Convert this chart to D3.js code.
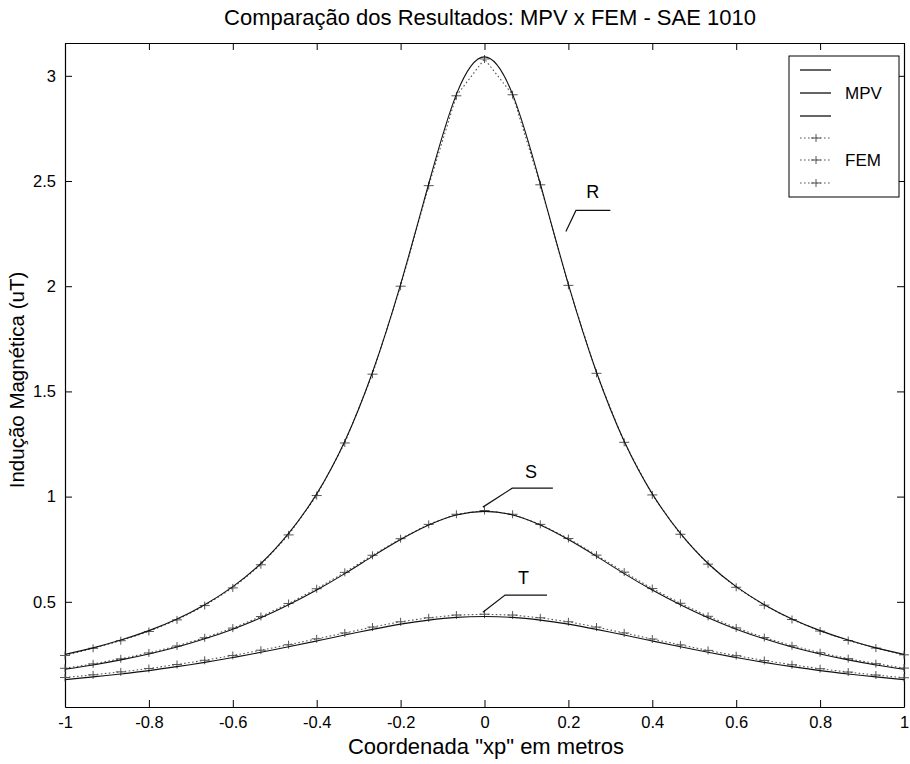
<!DOCTYPE html>
<html>
<head>
<meta charset="utf-8">
<script src="https://cdn.jsdelivr.net/npm/d3@7"></script>
<style>
  html, body { margin: 0; padding: 0; background: #fff; }
  svg text { font-family: "Liberation Sans", Arial, Helvetica, sans-serif; fill: #000; }
</style>
</head>
<body>
<svg id="chart" width="910" height="764"></svg>
<script>
// Sampling positions along the line (m)
const xp = [-1, -0.933, -0.867, -0.8, -0.733, -0.667, -0.6, -0.533, -0.467, -0.4, -0.333,
            -0.267, -0.2, -0.133, -0.067, 0, 0.067, 0.133, 0.2, 0.267, 0.333, 0.4,
            0.467, 0.533, 0.6, 0.667, 0.733, 0.8, 0.867, 0.933, 1];

// Magnetic induction (uT), MPV model, phases R, S, T
const mpvR = [0.250, 0.281, 0.318, 0.363, 0.418, 0.486, 0.572, 0.682, 0.825, 1.013, 1.263,
              1.591, 2.009, 2.487, 2.912, 3.090, 2.912, 2.487, 2.009, 1.591, 1.263, 1.013,
              0.825, 0.682, 0.572, 0.486, 0.418, 0.363, 0.318, 0.281, 0.250];
const mpvS = [0.179, 0.200, 0.224, 0.252, 0.285, 0.324, 0.370, 0.424, 0.486, 0.556, 0.634,
              0.716, 0.796, 0.865, 0.913, 0.930, 0.913, 0.865, 0.796, 0.716, 0.634, 0.556,
              0.486, 0.424, 0.370, 0.324, 0.285, 0.252, 0.224, 0.200, 0.179];
const mpvT = [0.130, 0.143, 0.157, 0.173, 0.192, 0.212, 0.235, 0.260, 0.286, 0.314, 0.342,
              0.369, 0.394, 0.413, 0.426, 0.430, 0.426, 0.413, 0.394, 0.369, 0.342, 0.314,
              0.286, 0.260, 0.235, 0.212, 0.192, 0.173, 0.157, 0.143, 0.130];

// Magnetic induction (uT), FEM model, phases R, S, T
const femR = [0.245, 0.279, 0.315, 0.359, 0.414, 0.482, 0.566, 0.676, 0.818, 1.005, 1.255,
              1.582, 2.000, 2.478, 2.905, 3.080, 2.910, 2.482, 2.004, 1.586, 1.258, 1.008,
              0.821, 0.679, 0.569, 0.484, 0.416, 0.361, 0.316, 0.280, 0.248];
const femS = [0.184, 0.205, 0.229, 0.257, 0.290, 0.329, 0.375, 0.430, 0.492, 0.562, 0.640,
              0.721, 0.800, 0.868, 0.916, 0.934, 0.916, 0.868, 0.801, 0.722, 0.641, 0.563,
              0.493, 0.431, 0.376, 0.330, 0.291, 0.258, 0.230, 0.206, 0.185];
const femT = [0.140, 0.153, 0.167, 0.183, 0.202, 0.222, 0.245, 0.270, 0.296, 0.324, 0.352,
              0.380, 0.405, 0.424, 0.437, 0.441, 0.437, 0.424, 0.405, 0.380, 0.352, 0.323,
              0.295, 0.269, 0.244, 0.221, 0.201, 0.182, 0.166, 0.152, 0.139];

// Axis ticks
const xTicks = [-1, -0.8, -0.6, -0.4, -0.2, 0, 0.2, 0.4, 0.6, 0.8, 1];
const xTickLabels = ["-1", "-0.8", "-0.6", "-0.4", "-0.2", "0", "0.2", "0.4", "0.6", "0.8", "1"];
const yTicks = [0.5, 1, 1.5, 2, 2.5, 3];
const yTickLabels = ["0.5", "1", "1.5", "2", "2.5", "3"];

// Phase labels with their leader lines (data coordinates)
const phaseNames = ["R", "S", "T"];
const phaseLabelAt = [[0.258, 2.42], [0.111, 1.09], [0.093, 0.585]];
const phaseLeader = [
  [[0.300, 2.36], [0.218, 2.36], [0.194, 2.26]],
  [[0.163, 1.04], [0.066, 1.04], [-0.004, 0.95]],
  [[0.149, 0.532], [0.049, 0.532], [-0.004, 0.45]]
];

const legendEntries = ["", "MPV", "", "", "FEM", ""];

const title = "Comparação dos Resultados: MPV x FEM - SAE 1010";
const xTitle = "Coordenada \"xp\" em metros";
const yTitle = "Indução Magnética (uT)";

// ---------------------------------------------------------------
const svg = d3.select("#chart");
const plotLeft = 65, plotRight = 904, plotTop = 43, plotBottom = 707;

const x = d3.scaleLinear().domain([-1, 1]).range([plotLeft, plotRight]);
const y = d3.scaleLinear().domain([0, 3.156]).range([plotBottom, plotTop]);

const ink = "#111";
const femInk = "#555";

// Axes box with inward ticks on all four sides
const axB = svg.append("g").attr("transform", `translate(0,${plotBottom})`)
  .call(d3.axisBottom(x).tickValues(xTicks).tickSize(-7).tickSizeOuter(0).tickPadding(9)
    .tickFormat((d, i) => xTickLabels[i]));
const axT = svg.append("g").attr("transform", `translate(0,${plotTop})`)
  .call(d3.axisTop(x).tickValues(xTicks).tickSize(-7).tickSizeOuter(0).tickFormat(""));
const axL = svg.append("g").attr("transform", `translate(${plotLeft},0)`)
  .call(d3.axisLeft(y).tickValues(yTicks).tickSize(-7).tickSizeOuter(0).tickPadding(9)
    .tickFormat((d, i) => yTickLabels[i]));
const axR = svg.append("g").attr("transform", `translate(${plotRight},0)`)
  .call(d3.axisRight(y).tickValues(yTicks).tickSize(-7).tickSizeOuter(0).tickFormat(""));

[axB, axT, axL, axR].forEach(g => {
  g.select(".domain").attr("stroke", "#000").attr("stroke-width", 1.2);
  g.selectAll(".tick line").attr("stroke", "#000").attr("stroke-width", 1);
  g.selectAll(".tick text").attr("font-size", 16.5).attr("font-family", null).attr("fill", "#000");
});

// Curves
const mpvLine = d3.line().x((d, i) => x(xp[i])).y(d => y(d)).curve(d3.curveNatural);
const femLine = d3.line().x((d, i) => x(xp[i])).y(d => y(d));

const curves = svg.append("g");
[femR, femS, femT].forEach(series => {
  curves.append("path").datum(series)
    .attr("d", femLine).attr("fill", "none")
    .attr("stroke", femInk).attr("stroke-width", 1.1)
    .attr("stroke-dasharray", "1.6,2.4");
  curves.append("g").selectAll("path").data(series).join("path")
    .attr("d", (d, i) => {
      const cx = x(xp[i]), cy = y(d);
      return `M${cx - 5},${cy}H${cx + 5}M${cx},${cy - 4}V${cy + 4}`;
    })
    .attr("stroke", femInk).attr("stroke-width", 1).attr("fill", "none");
});
[mpvR, mpvS, mpvT].forEach(series => {
  curves.append("path").datum(series)
    .attr("d", mpvLine).attr("fill", "none")
    .attr("stroke", ink).attr("stroke-width", 1.1);
});

// Phase labels
phaseNames.forEach((name, k) => {
  svg.append("path")
    .attr("d", d3.line().x(p => x(p[0])).y(p => y(p[1]))(phaseLeader[k]))
    .attr("fill", "none").attr("stroke", ink).attr("stroke-width", 1.2);
  svg.append("text")
    .attr("x", x(phaseLabelAt[k][0])).attr("y", y(phaseLabelAt[k][1]))
    .attr("text-anchor", "middle").attr("font-size", 18).text(name);
});

// Legend
const lg = svg.append("g");
const lgX = 789, lgY = 56, lgW = 110, lgH = 141;
lg.append("rect").attr("x", lgX).attr("y", lgY).attr("width", lgW).attr("height", lgH)
  .attr("fill", "#fff").attr("stroke", "#000").attr("stroke-width", 1);
const rowY = [70, 93, 116, 138, 160, 183];
legendEntries.forEach((label, i) => {
  const yy = rowY[i];
  const isFem = i >= 3;
  lg.append("line").attr("x1", 800).attr("x2", 831).attr("y1", yy).attr("y2", yy)
    .attr("stroke", isFem ? femInk : ink).attr("stroke-width", isFem ? 1.1 : 1.3)
    .attr("stroke-dasharray", isFem ? "1.6,2.4" : null);
  if (isFem) {
    lg.append("path").attr("d", `M811,${yy}H821M816,${yy - 4}V${yy + 4}`)
      .attr("stroke", femInk).attr("stroke-width", 1);
  }
  if (label) {
    lg.append("text").attr("x", 845).attr("y", yy).attr("dy", "0.35em")
      .attr("font-size", 17).text(label);
  }
});

// Titles
svg.append("text").attr("x", 490).attr("y", 25).attr("text-anchor", "middle")
  .attr("font-size", 22).text(title);
svg.append("text").attr("x", 486).attr("y", 754).attr("text-anchor", "middle")
  .attr("font-size", 22).text(xTitle);
svg.append("text").attr("transform", "translate(24,380) rotate(-90)")
  .attr("text-anchor", "middle").attr("font-size", 20.5).text(yTitle);
</script>
</body>
</html>
